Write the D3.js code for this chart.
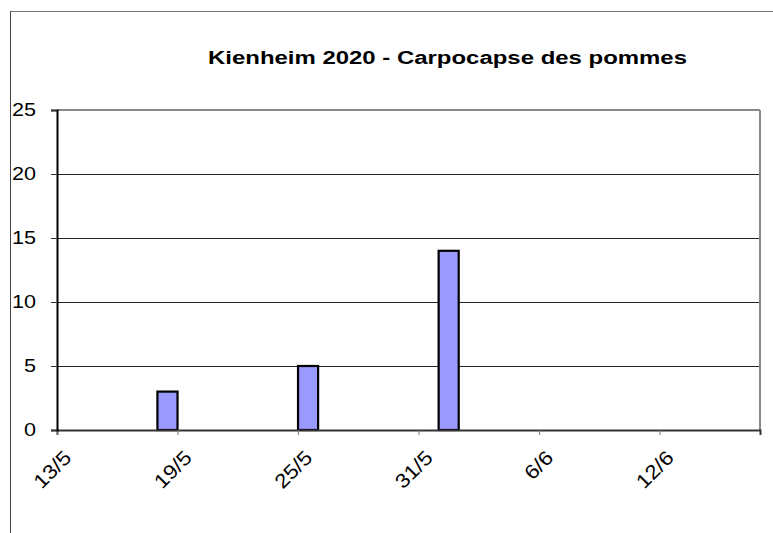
<!DOCTYPE html>
<html>
<head>
<meta charset="utf-8">
<script src="https://cdn.jsdelivr.net/npm/d3@7"></script>
<style>
  body { margin: 0; background: #fff; }
  text { font-family: "Liberation Sans", Arial, sans-serif; }
</style>
</head>
<body>
<div id="chart"></div>
<script>
// Données (piégeage hebdomadaire)
var dates = ["2020-05-18", "2020-05-25", "2020-06-01"];
var captures = [3, 5, 14];
var yTicks = [0, 5, 10, 15, 20, 25];
var xTickLabels = ["13/5", "19/5", "25/5", "31/5", "6/6", "12/6"];
var xStart = "2020-05-13";
var xEnd = "2020-06-17";

var parse = d3.timeParse("%Y-%m-%d");
var data = dates.map(function(d, i) { return { date: parse(d), count: captures[i] }; });

var width = 773, height = 533;
var margin = {top: 110, right: 13, bottom: 103, left: 57};

var svg = d3.select("#chart")
  .append("svg")
  .attr("width", width)
  .attr("height", height);

// cadre de la zone graphique (seulement haut et gauche visibles)
svg.append("line")
  .attr("x1", 10.5).attr("x2", width).attr("y1", 11.5).attr("y2", 11.5)
  .attr("stroke", "#777").attr("stroke-width", 1);
svg.append("line")
  .attr("x1", 10.5).attr("x2", 10.5).attr("y1", 11).attr("y2", height)
  .attr("stroke", "#444").attr("stroke-width", 1);

var x = d3.scaleTime()
  .domain([parse(xStart), parse(xEnd)])
  .range([margin.left, width - margin.right]);

var y = d3.scaleLinear()
  .domain([0, 25])
  .range([height - margin.bottom, margin.top]);

// titre (texte étiré comme dans l'original)
svg.append("text")
  .attr("x", 208)
  .attr("y", 64)
  .attr("textLength", 479)
  .attr("lengthAdjust", "spacingAndGlyphs")
  .style("font-size", "18px")
  .style("font-weight", "bold")
  .text("Kienheim 2020 - Carpocapse des pommes");

// lignes de quadrillage
svg.selectAll(".grid")
  .data(yTicks.filter(function(d) { return d > 0 && d < 25; }))
  .enter().append("line")
  .attr("class", "grid")
  .attr("x1", margin.left).attr("x2", width - margin.right)
  .attr("y1", function(d) { return Math.round(y(d)) + 0.5; })
  .attr("y2", function(d) { return Math.round(y(d)) + 0.5; })
  .attr("stroke", "#222").attr("stroke-width", 1);

// bordure de la zone de tracé (haut + droite)
svg.append("line")
  .attr("x1", margin.left).attr("x2", width - margin.right)
  .attr("y1", y(25)).attr("y2", y(25))
  .attr("stroke", "#888").attr("stroke-width", 2);
svg.append("line")
  .attr("x1", width - margin.right).attr("x2", width - margin.right)
  .attr("y1", y(25)).attr("y2", y(0))
  .attr("stroke", "#888").attr("stroke-width", 2);

// barres
svg.selectAll(".bar")
  .data(data)
  .enter().append("rect")
  .attr("class", "bar")
  .attr("x", function(d) { return x(d.date); })
  .attr("y", function(d) { return y(d.count); })
  .attr("width", function(d) { return x(d3.timeDay.offset(d.date, 1)) - x(d.date); })
  .attr("height", function(d) { return y(0) - y(d.count); })
  .attr("fill", "#9999ff")
  .attr("stroke", "black")
  .attr("stroke-width", 2.2);

// axe X
var xTickDates = d3.timeDay.range(parse(xStart), parse("2020-06-13"), 6);
var xAxis = svg.append("g")
  .attr("transform", "translate(0," + y(0) + ")")
  .call(d3.axisBottom(x)
    .tickValues(xTickDates)
    .tickSize(5)
    .tickFormat(function(d, i) { return xTickLabels[i]; }));
xAxis.select(".domain").attr("stroke", "#333").attr("stroke-width", 2);
xAxis.selectAll(".tick line").attr("stroke", "#777");
xAxis.selectAll(".tick text")
  .style("font-size", "20px")
  .attr("fill", "black")
  .attr("text-anchor", "end")
  .attr("dy", null)
  .attr("y", null)
  .attr("transform", "translate(15,29) rotate(-45) scale(1.12,1)");

// axe Y
var yAxis = svg.append("g")
  .attr("transform", "translate(" + margin.left + ",0)")
  .call(d3.axisLeft(y).tickValues(yTicks).tickSize(6));
yAxis.select(".domain").attr("stroke", "black").attr("stroke-width", 2);
yAxis.selectAll(".tick line").attr("stroke", "#333");
yAxis.selectAll(".tick text")
  .style("font-size", "18px")
  .attr("fill", "black")
  .attr("x", 0)
  .attr("transform", "translate(-21,0) scale(1.2,1)");
</script>
</body>
</html>
